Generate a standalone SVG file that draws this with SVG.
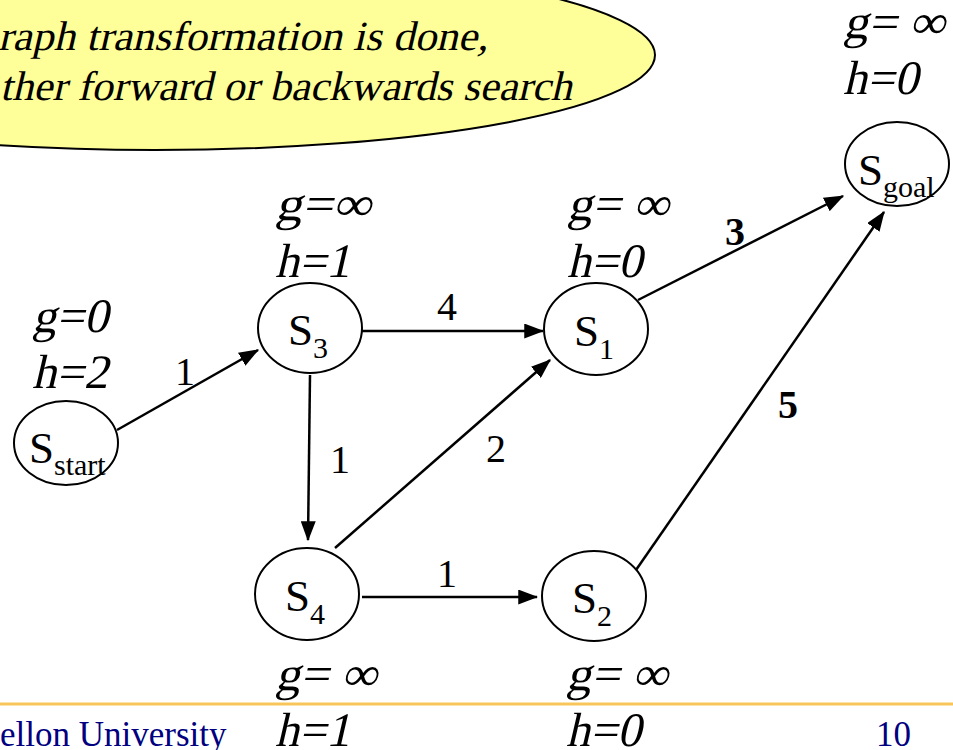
<svg xmlns="http://www.w3.org/2000/svg" width="953" height="750" viewBox="0 0 953 750">
<style>
.node ellipse{fill:#fff;stroke:#000;stroke-width:2}
.nt{font-family:"Liberation Serif","Times New Roman",serif;font-size:45px;fill:#000}
.sub{font-size:30px}
.lbl{font-family:"Liberation Serif","Times New Roman",serif;font-size:48px;fill:#000}
.w{font-family:"Liberation Serif","Times New Roman",serif;font-size:40px;fill:#000;text-anchor:middle}
.wb{font-weight:bold}
.edge{stroke:#000;stroke-width:2.5;fill:none;marker-end:url(#arr)}
.callt{font-family:"Liberation Serif","Times New Roman",serif;font-size:41.5px;fill:#000}
.foot{font-family:"Liberation Serif","Times New Roman",serif;font-size:35px;fill:#000080}
</style>
<defs>
<marker id="arr" markerWidth="8" markerHeight="6" refX="7.5" refY="3" orient="auto" markerUnits="strokeWidth">
<path d="M0,0 L8,3 L0,6 Z" fill="#000"/>
</marker>
</defs>
<rect width="953" height="750" fill="#fff"/>

<g id="callout">
<ellipse cx="155" cy="55" rx="500" ry="95" fill="#FFFF99" stroke="#000" stroke-width="2"/>
<g transform="translate(-2,50) skewX(-13)"><text class="callt" x="0" y="0" textLength="490" lengthAdjust="spacingAndGlyphs">raph transformation is done,</text></g>
<g transform="translate(0,100) skewX(-13)"><text class="callt" x="0" y="0" textLength="572" lengthAdjust="spacingAndGlyphs">ther forward or backwards search</text></g>
</g>

<g id="connectors">
<line class="edge" x1="117" y1="430" x2="258" y2="350"/>
<line class="edge" x1="362" y1="331" x2="543" y2="331"/>
<line class="edge" x1="310" y1="375" x2="308" y2="540"/>
<line class="edge" x1="335" y1="548" x2="550" y2="360"/>
<line class="edge" x1="362" y1="597" x2="537" y2="597"/>
<line class="edge" x1="638" y1="300" x2="843" y2="196"/>
<line class="edge" x1="636" y1="570" x2="884" y2="212"/>
<text class="w" x="185" y="385">1</text>
<text class="w" x="447" y="320">4</text>
<text class="w" x="340" y="473">1</text>
<text class="w" x="496" y="462">2</text>
<text class="w" x="447" y="587">1</text>
<text class="w wb" x="735" y="245">3</text>
<text class="w wb" x="788" y="418">5</text>
</g>

<g id="n-start" class="node">
<ellipse cx="66" cy="443" rx="52" ry="42"/>
<text class="nt" x="29" y="463">S<tspan class="sub" dy="12">start</tspan></text>
<g transform="translate(32,332) skewX(-13)"><text class="lbl" textLength="76" lengthAdjust="spacingAndGlyphs">g=0</text></g>
<g transform="translate(32,388) skewX(-13)"><text class="lbl" textLength="76" lengthAdjust="spacingAndGlyphs">h=2</text></g>
</g>

<g id="n-s3" class="node">
<ellipse cx="310" cy="328" rx="52" ry="45"/>
<text class="nt" x="288" y="345">S<tspan class="sub" dy="13">3</tspan></text>
<g transform="translate(275,220) skewX(-13)"><text class="lbl" textLength="96" lengthAdjust="spacingAndGlyphs">g=∞</text></g>
<g transform="translate(275,277) skewX(-13)"><text class="lbl">h=1</text></g>
</g>

<g id="n-s1" class="node">
<ellipse cx="596" cy="329" rx="52" ry="46"/>
<text class="nt" x="574" y="346">S<tspan class="sub" dy="13">1</tspan></text>
<g transform="translate(567,220) skewX(-13)"><text class="lbl" textLength="102" lengthAdjust="spacingAndGlyphs">g= ∞</text></g>
<g transform="translate(567,277) skewX(-13)"><text class="lbl">h=0</text></g>
</g>

<g id="n-s4" class="node">
<ellipse cx="307" cy="594" rx="52" ry="46"/>
<text class="nt" x="285" y="611">S<tspan class="sub" dy="13">4</tspan></text>
<g transform="translate(275,690) skewX(-13)"><text class="lbl" textLength="102" lengthAdjust="spacingAndGlyphs">g= ∞</text></g>
<g transform="translate(275,746) skewX(-13)"><text class="lbl">h=1</text></g>
</g>

<g id="n-s2" class="node">
<ellipse cx="594" cy="596" rx="52" ry="45"/>
<text class="nt" x="572" y="613">S<tspan class="sub" dy="13">2</tspan></text>
<g transform="translate(566,690) skewX(-13)"><text class="lbl" textLength="102" lengthAdjust="spacingAndGlyphs">g= ∞</text></g>
<g transform="translate(566,746) skewX(-13)"><text class="lbl">h=0</text></g>
</g>

<g id="n-goal" class="node">
<ellipse cx="897" cy="164" rx="52" ry="42"/>
<text class="nt" x="858" y="185">S<tspan class="sub" dy="12">goal</tspan></text>
<g transform="translate(843,38) skewX(-13)"><text class="lbl" textLength="102" lengthAdjust="spacingAndGlyphs">g= ∞</text></g>
<g transform="translate(843,94) skewX(-13)"><text class="lbl">h=0</text></g>
</g>

<g id="footer">
<line x1="0" y1="704" x2="953" y2="704" stroke="#F9C55A" stroke-width="3"/>
<text class="foot" x="0" y="746">ellon University</text>
<text class="foot" x="876" y="746">10</text>
</g>
</svg>
